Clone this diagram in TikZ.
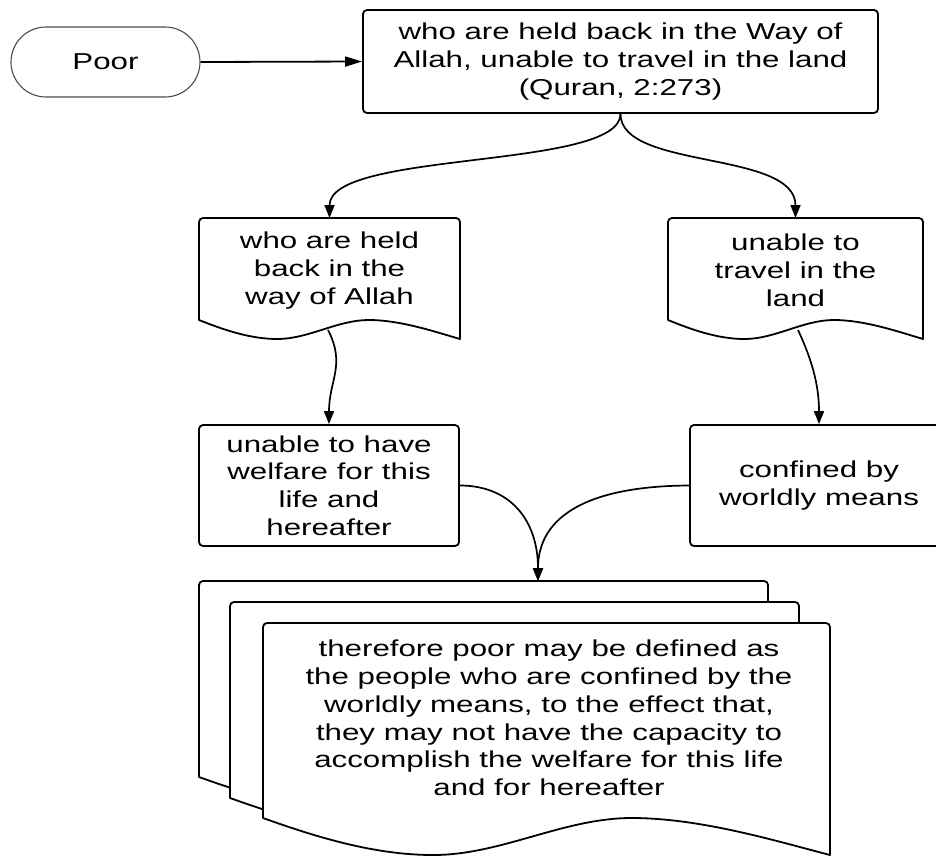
\documentclass[tikz,border=0pt]{standalone}
\usepackage{fontspec}
\setmainfont{Liberation Sans}[FakeStretch=1.36]
\usetikzlibrary{arrows.meta}
\newcommand\dfont{\fontsize{23}{27.8}\selectfont}
% L T R B0 a : document shape with wavy bottom
\newcommand\docshape[5]{%
\draw[docline] (#1,#4) -- (#1,#2+4) arc(180:270:4) -- (#3-4,#2) arc(270:360:4) -- (#3,#4+#5)
 .. controls ({#1+0.9*(#3-#1)},{#4+0.6*#5}) and ({#1+0.77*(#3-#1)},#4) .. ({#1+0.65*(#3-#1)},#4)
 .. controls ({#1+0.53*(#3-#1)},#4) and ({#1+0.42*(#3-#1)},{#4+#5}) .. ({#1+0.3*(#3-#1)},{#4+#5})
 .. controls ({#1+0.2*(#3-#1)},{#4+#5}) and ({#1+0.1*(#3-#1)},{#4+0.55*#5}) .. (#1,#4) -- cycle;}
\begin{document}
\begin{tikzpicture}[x=1pt,y=-1pt,
  box/.style={draw, line width=1.8pt, rounded corners=4pt, align=center, inner sep=0pt, font=\dfont},
  lbl/.style={align=center, inner sep=0pt, font=\dfont},
  hold/.style={inner sep=0pt, outer sep=0pt, draw=none},
  conn/.style={line width=1.7pt, -{Triangle[length=13pt,width=10pt]}},
  docline/.style={line width=1.8pt, fill=white, line join=round}]
\clip (0,0) rectangle (936,857);
\fill[white] (0,0) rectangle (936,857);
% top row
\node[box, draw=black!70, line width=1.1pt, rounded corners=35pt, minimum width=189pt, minimum height=70pt] (poor) at (105.5,62) {Poor};
\node[box, minimum width=515pt, minimum height=103pt] (top) at (620.5,61.5) {who are held back in the Way of\\Allah, unable to travel in the land\\(Quran, 2:273)};
\draw[line width=1.8pt, -{Triangle[length=17pt,width=10pt]}] (poor.east) -- (top.west);
% documents
\docshape{199}{218}{460}{320}{19}
\node[hold, minimum width=261pt, minimum height=121pt] (ldoc) at (329.5,278.5) {};
\node[lbl] (ldoct) at (329.5,270.5) {who are held\\back in the\\way of Allah};
\docshape{668}{218}{923}{320}{19}
\node[hold, minimum width=255pt, minimum height=121pt] (rdoc) at (795.5,278.5) {};
\node[lbl] (rdoct) at (795.5,270.5) {unable to\\travel in the\\land};
\draw[conn] (top.south) .. controls (620.5,170) and (329.5,150) .. (ldoc.north);
\draw[conn] (top.south) .. controls (620.5,170) and (795.5,150) .. (rdoc.north);
% middle boxes
\node[box, minimum width=260pt, minimum height=121pt] (wel) at (329,485.5) {unable to have\\welfare for this\\life and\\hereafter};
\node[box, minimum width=258pt, minimum height=121pt] (conf) at (819,485.5) {confined by\\worldly means};
\coordinate (ldocb) at (328,330);
\coordinate (rdocb) at (798,330);
\draw[conn] (ldocb) .. controls (346,365) and (329,380) .. (wel.north);
\draw[conn] (rdocb) .. controls (812,360) and (819,385) .. (conf.north);
% stacked documents
\docshape{199}{581}{768}{777}{37}
\docshape{230}{602}{799}{798}{37}
\docshape{263}{623}{830}{818}{37}
\node[hold, minimum width=567pt, minimum height=232pt] (stk) at (546.5,739) {};
\node[lbl] (stkt) at (549,718) {therefore poor may be defined as\\the people who are confined by the\\worldly means, to the effect that,\\they may not have the capacity to\\accomplish the welfare for this life\\and for hereafter};
\coordinate (stktop) at (538,581);
\draw[conn] (wel.east) .. controls (510,485.5) and (538,520) .. (stktop);
\draw[conn] (conf.west) .. controls (590,486) and (538,515) .. (stktop);
\end{tikzpicture}
\end{document}
